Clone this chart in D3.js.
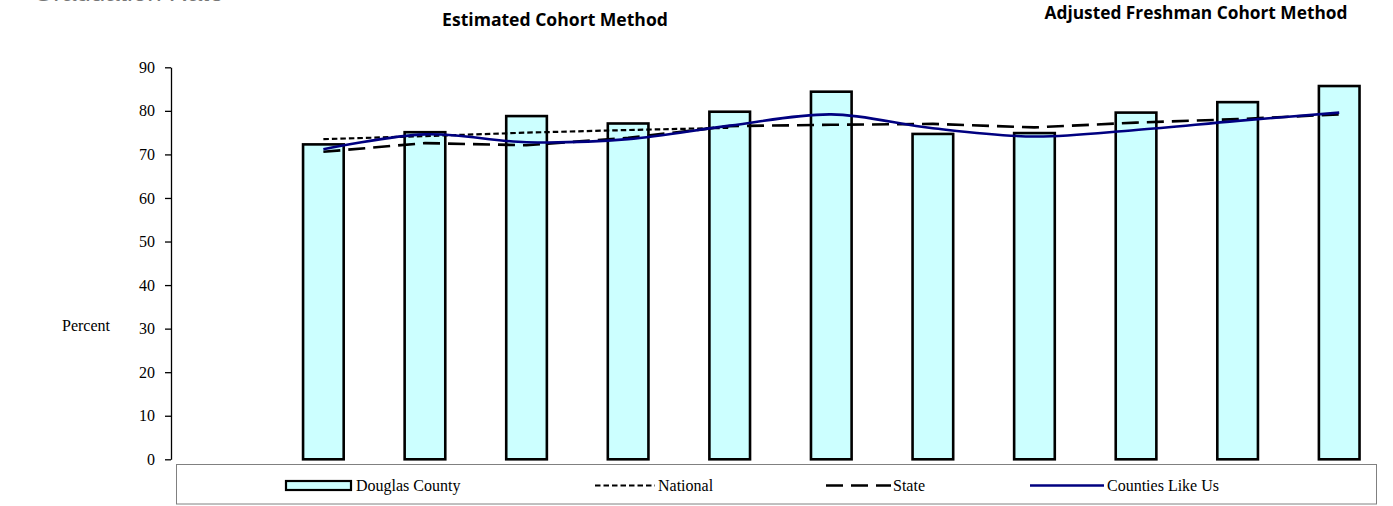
<!DOCTYPE html>
<html><head><meta charset="utf-8">
<script src="https://cdn.jsdelivr.net/npm/d3@7"></script>
<style>html,body{margin:0;padding:0;background:#fff;overflow:hidden}</style>
</head><body>
<svg id="c" width="1393" height="506"></svg>
<script>
// ---- data ----
const categories = ["", "C1", "C2", "C3", "C4", "C5", "C6", "C7", "C8", "C9", "C10", "C11"];
const douglasCounty = [null, 72.3, 75.1, 78.8, 77.1, 79.8, 84.4, 74.7, 74.9, 79.6, 82.0, 85.7];
const national = [null, 73.5, 74.2, 75.0, 75.6, 76.1, null, null, null, null, null, null];
const state = [null, 70.6, 72.6, 72.1, 73.8, 76.5, 76.8, 77.0, 76.2, 77.3, 78.1, 79.2];
const countiesLikeUs = [null, 71.2, 74.6, 72.8, 73.5, 76.6, 79.2, 76.0, 74.1, 75.6, 77.7, 79.6];
const yTicks = [0, 10, 20, 30, 40, 50, 60, 70, 80, 90];
const seriesNames = ["Douglas County", "National", "State", "Counties Like Us"];
const headerLabels = ["Estimated Cohort Method", "Adjusted Freshman Cohort Method"];

const svg = d3.select("#c");
const x = d3.scaleBand().domain(categories).range([171, 1390]).padding(0);
const y = d3.scaleLinear().domain([0, 90]).range([459.3, 67.3]);
const bw = x.bandwidth();
const cx = c => x(c) + bw / 2;

// clipped title at top-left (only its bottom edge is visible in the reference)
svg.append("text").attr("x", 33).attr("y", 0.5).attr("fill", "#777")
  .style("font-family", "Liberation Sans, Arial, sans-serif").style("font-size", "26px")
  .text("Graduation Rate");

// headers
function fitText(sel, w) {
  const l = sel.node().getComputedTextLength();
  const fs = parseFloat(sel.style("font-size"));
  sel.style("font-size", (fs * w / l) + "px");
}
const h1 = svg.append("text").attr("x", 555).attr("y", 26).attr("text-anchor", "middle")
  .style("font-family", "Open Sans, sans-serif").style("font-weight", "bold").style("font-size", "16px")
  .text(headerLabels[0]);
fitText(h1, 226);
const h2 = svg.append("text").attr("x", 1196).attr("y", 19).attr("text-anchor", "middle")
  .style("font-family", "Open Sans, sans-serif").style("font-weight", "bold").style("font-size", "16px")
  .text(headerLabels[1]);
fitText(h2, 303);

// y axis
const yAxis = svg.append("g").attr("transform", "translate(171,0)")
  .call(d3.axisLeft(y).tickValues(yTicks).tickSize(6).tickPadding(10).tickSizeOuter(0));
yAxis.select(".domain").attr("stroke", "#000").attr("stroke-width", 1.3);
yAxis.selectAll(".tick line").attr("stroke", "#000").attr("stroke-width", 1.3);
yAxis.selectAll(".tick text").attr("fill", "#000")
  .style("font-family", "Liberation Serif, Times New Roman, serif").style("font-size", "16px");

svg.append("text").attr("x", 86).attr("y", 331).attr("text-anchor", "middle")
  .style("font-family", "Liberation Serif, Times New Roman, serif").style("font-size", "16px")
  .text("Percent");

// bars
const barData = categories.map((c, i) => ({c, v: douglasCounty[i]})).filter(d => d.v != null);
svg.append("g").selectAll("rect").data(barData).join("rect")
  .attr("x", d => x(d.c) + bw * 0.3).attr("width", bw * 0.4)
  .attr("y", d => y(d.v)).attr("height", d => y(0) - y(d.v))
  .attr("fill", "#CCFFFF").attr("stroke", "#000").attr("stroke-width", 2.6);

// lines
function drawLine(vals, opts) {
  const pts = categories.map((c, i) => ({c, v: vals[i]})).filter(d => d.v != null);
  const gen = d3.line().x(d => cx(d.c)).y(d => y(d.v)).curve(opts.curve || d3.curveLinear);
  svg.append("path").datum(pts).attr("d", gen).attr("fill", "none")
    .attr("stroke", opts.color).attr("stroke-width", opts.width)
    .attr("stroke-dasharray", opts.dash || null);
}
const styles = {
  national: {color: "#000", width: 2.2, dash: "5.5,3"},
  state: {color: "#000", width: 2.6, dash: "17,8"},
  counties: {color: "#000080", width: 2.6, curve: d3.curveCatmullRom.alpha(0.5)}
};
drawLine(national, styles.national);
drawLine(state, styles.state);
drawLine(countiesLikeUs, styles.counties);

// legend
const lg = svg.append("g");
lg.append("rect").attr("x", 176.5).attr("y", 464.5).attr("width", 1200).attr("height", 39.5)
  .attr("fill", "#fff").attr("stroke", "#808080").attr("stroke-width", 1);
const lgFont = sel => sel.style("font-family", "Liberation Serif, Times New Roman, serif").style("font-size", "16px").attr("fill", "#000");
lg.append("rect").attr("x", 286).attr("y", 481).attr("width", 65).attr("height", 9)
  .attr("fill", "#CCFFFF").attr("stroke", "#000").attr("stroke-width", 2.2);
lg.append("text").attr("x", 356).attr("y", 491).text(seriesNames[0]).call(lgFont);
lg.append("line").attr("x1", 595).attr("x2", 655).attr("y1", 485.5).attr("y2", 485.5)
  .attr("stroke", "#000").attr("stroke-width", 2).attr("stroke-dasharray", "5.5,3");
lg.append("text").attr("x", 658).attr("y", 491).text(seriesNames[1]).call(lgFont);
lg.append("line").attr("x1", 826).attr("x2", 891).attr("y1", 485.5).attr("y2", 485.5)
  .attr("stroke", "#000").attr("stroke-width", 2.4).attr("stroke-dasharray", "17,8");
lg.append("text").attr("x", 893).attr("y", 491).text(seriesNames[2]).call(lgFont);
lg.append("line").attr("x1", 1030).attr("x2", 1104).attr("y1", 485.5).attr("y2", 485.5)
  .attr("stroke", "#000080").attr("stroke-width", 2.4);
lg.append("text").attr("x", 1107).attr("y", 491).text(seriesNames[3]).call(lgFont);
</script>
</body></html>
